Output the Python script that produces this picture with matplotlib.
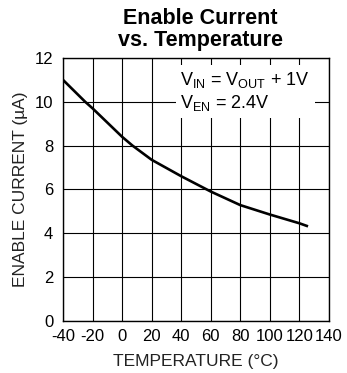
import matplotlib
matplotlib.use("Agg")
from matplotlib import pyplot as plt

# data
temperature = [-40, -25, -20, 0, 7, 20, 40, 60, 80, 100, 120, 125]
enable_current = [11.0, 10.0, 9.7, 8.4, 8.0, 7.35, 6.6, 5.9, 5.28, 4.85, 4.45, 4.33]

x_ticks = [-40, -20, 0, 20, 40, 60, 80, 100, 120, 140]
y_ticks = [0, 2, 4, 6, 8, 10, 12]

plt.rcParams['font.family'] = ['Liberation Sans', 'DejaVu Sans']
plt.rcParams['mathtext.fontset'] = 'custom'
plt.rcParams['mathtext.rm'] = 'Liberation Sans'
plt.rcParams['mathtext.it'] = 'Liberation Sans'
plt.rcParams['axes.unicode_minus'] = False

fig = plt.figure(figsize=(3.47, 3.73), dpi=100)
ax = fig.add_axes([0.1816, 0.1402, 0.7664, 0.7043])

ax.plot(temperature, enable_current, color='black', linewidth=1.9, zorder=3)

ax.set_xlim(-40, 140)
ax.set_ylim(0, 12)
ax.set_xticks(x_ticks)
ax.set_yticks(y_ticks)
ax.grid(True, color='black', linewidth=0.8)
ax.set_axisbelow(True)
ax.tick_params(length=0, labelsize=12)
ax.tick_params(axis='x', pad=6)
ax.tick_params(axis='y', pad=7)
for s in ax.spines.values():
    s.set_linewidth(1.0)

ax.set_xlabel('TEMPERATURE (°C)', fontsize=12.5, color='#222222', labelpad=7)
ax.set_ylabel('ENABLE CURRENT (µA)', fontsize=12.5, color='#222222', labelpad=5)

fig.text(0.578, 0.978, 'Enable Current\nvs. Temperature', ha='center', va='top',
         fontsize=15.5, fontweight='bold', linespacing=1.05)

ax.text(39.5, 11.45, 'V$_{\\mathregular{IN}}$ = V$_{\\mathregular{OUT}}$ + 1V\nV$_{\\mathregular{EN}}$ = 2.4V',
        ha='left', va='top', fontsize=13, linespacing=1.2, zorder=2,
        bbox=dict(facecolor='white', edgecolor='none', pad=3.5))

fig.savefig('out.png', dpi=100)
